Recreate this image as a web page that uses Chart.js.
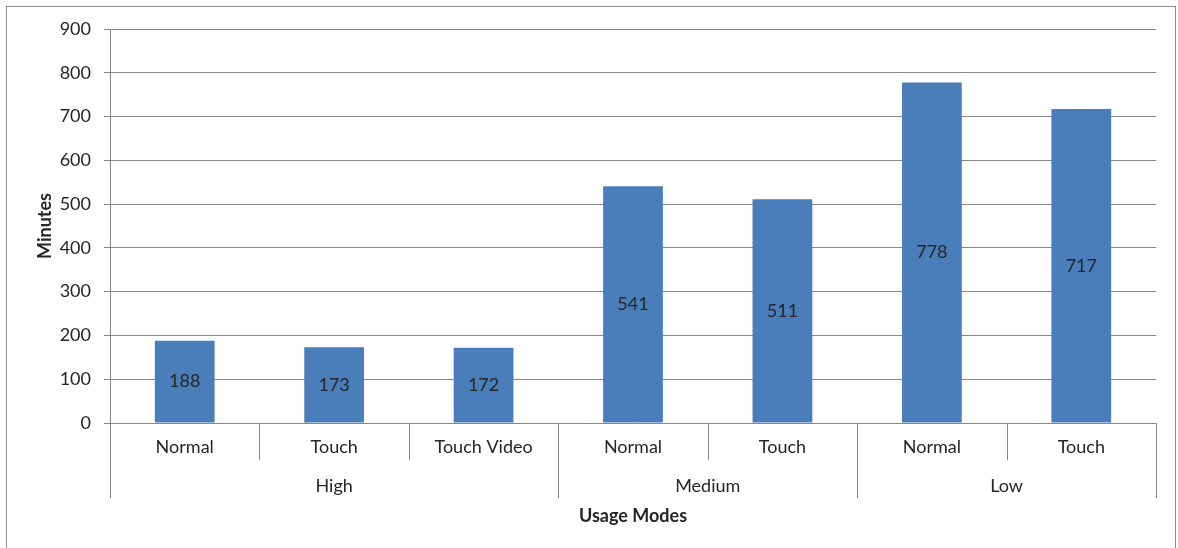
<!DOCTYPE html>
<html>
<head>
<meta charset="utf-8">
<script src="https://cdn.jsdelivr.net/npm/chart.js@4"></script>
<style>
  html, body { margin: 0; background: #fff; }
  canvas { display: block; }
</style>
</head>
<body>
<canvas id="grafico" width="1178" height="548"></canvas>
<script>
// Dados do gráfico
const modos = ['Normal', 'Touch', 'Touch Video', 'Normal', 'Touch', 'Normal', 'Touch'];
const grupos = ['High', 'Medium', 'Low'];
const tamanhoGrupos = [3, 2, 2];
const minutos = [188, 173, 172, 541, 511, 778, 717];
const eixoY = { min: 0, max: 900, passo: 100 };

const corTexto = '#262626';
const corLinha = '#868686';
const fonte = 'Lato, "Open Sans", sans-serif';
const tam = 18;

// Linhas divisórias, rótulos dos grupos, títulos e moldura
const eixoCategorias = {
  id: 'eixoCategorias',
  afterDraw(chart) {
    const { ctx, chartArea } = chart;
    const x = chart.scales.x;
    const passo = x.getPixelForValue(1) - x.getPixelForValue(0);
    const base = chartArea.bottom;

    // índices onde cada grupo começa/termina
    const limites = [0];
    tamanhoGrupos.forEach(n => limites.push(limites[limites.length - 1] + n));

    ctx.save();
    ctx.strokeStyle = corLinha;
    ctx.lineWidth = 1;
    for (let i = 0; i <= modos.length; i++) {
      const px = Math.round(x.getPixelForValue(i) - passo / 2) + 0.5;
      const longa = limites.includes(i);
      ctx.beginPath();
      ctx.moveTo(px, base);
      ctx.lineTo(px, base + (longa ? 75 : 37));
      ctx.stroke();
    }

    ctx.fillStyle = corTexto;
    ctx.font = `${tam}px ${fonte}`;
    ctx.textAlign = 'center';
    ctx.textBaseline = 'middle';
    grupos.forEach((g, k) => {
      const ini = x.getPixelForValue(limites[k]) - passo / 2;
      const fim = x.getPixelForValue(limites[k + 1]) - passo / 2;
      ctx.fillText(g, (ini + fim) / 2, base + 63);
    });

    // títulos dos eixos
    ctx.font = `bold ${tam}px ${fonte}`;
    ctx.fillText('Usage Modes', (chartArea.left + chartArea.right) / 2, base + 93);
    ctx.save();
    ctx.translate(45, (chartArea.top + chartArea.bottom) / 2);
    ctx.rotate(-Math.PI / 2);
    ctx.fillText('Minutes', 0, 0);
    ctx.restore();

    // moldura
    ctx.strokeStyle = '#8c8c8c';
    ctx.strokeRect(6.5, 6.5, 1169, 560);
    ctx.restore();
  },
  afterDatasetsDraw(chart) {
    const { ctx } = chart;
    const meta = chart.getDatasetMeta(0);
    ctx.save();
    ctx.fillStyle = corTexto;
    ctx.font = `${tam}px ${fonte}`;
    ctx.textAlign = 'center';
    ctx.textBaseline = 'middle';
    meta.data.forEach((barra, i) => {
      ctx.fillText(String(minutos[i]), barra.x, (barra.y + barra.base) / 2);
    });
    ctx.restore();
  }
};

new Chart(document.getElementById('grafico'), {
  type: 'bar',
  data: {
    labels: modos,
    datasets: [{
      data: minutos,
      backgroundColor: '#4a7ebb',
      barPercentage: 0.4,
      categoryPercentage: 1
    }]
  },
  options: {
    responsive: false,
    animation: false,
    devicePixelRatio: 1,
    layout: { padding: { top: 29, right: 22, left: 0, bottom: 0 } },
    plugins: { legend: { display: false }, tooltip: { enabled: false } },
    scales: {
      x: {
        grid: { display: false },
        border: { display: true, color: corLinha, width: 1 },
        ticks: { color: corTexto, font: { family: fonte, size: tam }, padding: 5, maxRotation: 0 },
        afterFit: s => { s.height = 125; }
      },
      y: {
        min: eixoY.min,
        max: eixoY.max,
        ticks: { stepSize: eixoY.passo, color: corTexto, font: { family: fonte, size: tam }, padding: 13 },
        grid: { color: corLinha, tickLength: 6, drawTicks: true },
        border: { display: true, color: corLinha },
        afterFit: s => { s.width = 110; }
      }
    }
  },
  plugins: [eixoCategorias]
});
</script>
</body>
</html>
